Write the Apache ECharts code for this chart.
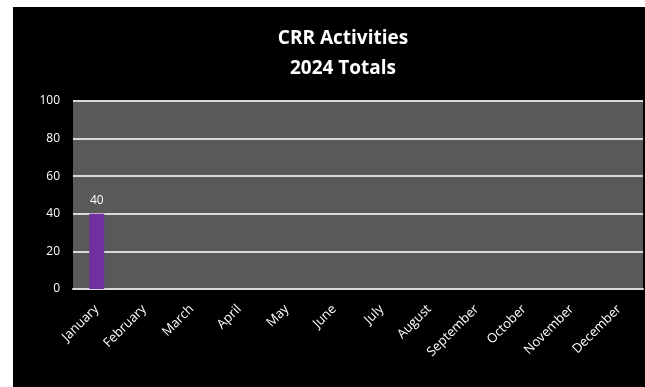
<!DOCTYPE html>
<html>
<head>
<meta charset="utf-8">
<script src="https://cdn.jsdelivr.net/npm/echarts@6/dist/echarts.min.js"></script>
<style>
  html, body { margin: 0; padding: 0; background: #ffffff; width: 645px; height: 387px; overflow: hidden; }
  #chart { position: absolute; left: 13px; top: 7px; width: 632px; height: 380px; background: #000000; }
</style>
</head>
<body>
<div id="chart"></div>
<script>
// Monthly activity totals
const months = ['January', 'February', 'March', 'April', 'May', 'June', 'July',
  'August', 'September', 'October', 'November', 'December'];
const totals = [40, null, null, null, null, null, null, null, null, null, null, null];
const yTicks = [0, 20, 40, 60, 80, 100];

const chart = echarts.init(document.getElementById('chart'), null, { renderer: 'canvas' });
const font = "'Open Sans', 'Noto Sans', sans-serif";

chart.setOption({
  backgroundColor: '#000000',
  animation: false,
  title: {
    text: 'CRR Activities\n2024 Totals',
    left: 325,
    top: 12,
    textAlign: 'center',
    textStyle: { color: '#ffffff', fontFamily: font, fontWeight: 'bold', fontSize: 19, lineHeight: 30 }
  },
  grid: {
    left: 60, right: 2, top: 94, bottom: 98,
    show: true, backgroundColor: '#595959', borderWidth: 0
  },
  xAxis: {
    type: 'category',
    data: months,
    axisLine: { show: true, lineStyle: { color: '#d9d9d9', width: 2 } },
    axisTick: { show: false },
    axisLabel: { color: '#ffffff', fontFamily: font, fontSize: 13, rotate: 45, margin: 18, interval: 0 }
  },
  yAxis: {
    type: 'value',
    min: yTicks[0],
    max: yTicks[yTicks.length - 1],
    interval: yTicks[1] - yTicks[0],
    axisLine: { show: false },
    axisTick: { show: false },
    splitLine: { lineStyle: { color: '#d9d9d9', width: 2 } },
    axisLabel: { color: '#ffffff', fontFamily: font, fontSize: 12, margin: 13 }
  },
  series: [{
    type: 'bar',
    data: totals,
    barWidth: 15,
    itemStyle: { color: '#7030a0' },
    label: { show: true, position: 'top', distance: 7, color: '#ffffff', fontFamily: font, fontSize: 12 }
  }]
});
</script>
</body>
</html>
